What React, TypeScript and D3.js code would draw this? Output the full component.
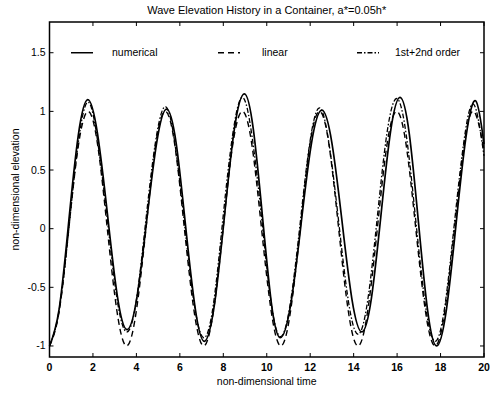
import * as d3 from "d3";

// numerical solution (solid)
const numTime = [0, 0.44, 0.88, 1.32, 1.76, 2.21, 2.67, 3.12, 3.57, 4.03, 4.48, 4.94, 5.39, 5.83, 6.26, 6.7, 7.13, 7.59, 8.05, 8.51, 8.97, 9.38, 9.8, 10.21, 10.62, 11.1, 11.58, 12.06, 12.54, 13.0, 13.46, 13.92, 14.38, 14.82, 15.26, 15.7, 16.14, 16.56, 16.98, 17.4, 17.82, 18.27, 18.72, 19.17, 19.62, 20];
const numElev = [-1.0, -0.69, 0.05, 0.79, 1.1, 0.81, 0.12, -0.57, -0.86, -0.58, 0.08, 0.74, 1.02, 0.73, 0.03, -0.67, -0.96, -0.65, 0.1, 0.85, 1.15, 0.85, 0.11, -0.63, -0.93, -0.65, 0.04, 0.73, 1.01, 0.73, 0.07, -0.6, -0.88, -0.59, 0.12, 0.83, 1.12, 0.81, 0.06, -0.69, -1.0, -0.69, 0.05, 0.78, 1.09, 0.72];

// linear theory (dashed) and 1st+2nd order (dash-dot) share the same samples in time
const thTime = [0, 0.44, 0.89, 1.33, 1.78, 2.22, 2.66, 3.11, 3.55, 3.99, 4.44, 4.88, 5.33, 5.77, 6.21, 6.66, 7.1, 7.54, 7.99, 8.43, 8.88, 9.32, 9.76, 10.21, 10.65, 11.09, 11.54, 11.98, 12.43, 12.87, 13.31, 13.76, 14.2, 14.64, 15.09, 15.53, 15.98, 16.42, 16.86, 17.31, 17.75, 18.19, 18.64, 19.08, 19.53, 20];
const linElev = [-1, -0.71, 0, 0.71, 1, 0.71, 0, -0.71, -1, -0.71, 0, 0.71, 1, 0.71, 0, -0.71, -1, -0.71, 0, 0.71, 1, 0.71, 0, -0.71, -1, -0.71, 0, 0.71, 1, 0.71, 0, -0.71, -1, -0.71, 0, 0.71, 1, 0.71, 0, -0.71, -1, -0.71, 0, 0.71, 1, 0.67];
const sosElev = [-1.0, -0.7, 0.0, 0.74, 1.08, 0.74, 0.08, -0.6, -0.88, -0.62, 0.08, 0.74, 1.04, 0.73, 0.05, -0.64, -0.93, -0.65, 0.1, 0.8, 1.12, 0.79, 0.1, -0.64, -0.92, -0.63, 0.05, 0.73, 1.03, 0.72, 0.06, -0.62, -0.9, -0.62, 0.1, 0.81, 1.11, 0.8, 0.07, -0.66, -0.96, -0.67, 0.05, 0.75, 1.06, 0.62];

const xTicks = [0, 2, 4, 6, 8, 10, 12, 14, 16, 18, 20];
const yTicks = [-1, -0.5, 0, 0.5, 1, 1.5];

const legendItems = ["numerical", "linear", "1st+2nd order"];

const W = 501;
const H = 393;
const left = 49.5;
const right = 484;
const top = 22;
const bottom = 357;

const font = "'Liberation Sans', Arial, Helvetica, sans-serif";

export default function App() {
  const x = d3.scaleLinear().domain([0, 20]).range([left, right]);
  const y = d3.scaleLinear().domain([-1.094, 1.762]).range([bottom, top]);

  const line = (ts: number[], vs: number[]) =>
    d3
      .line<number>()
      .x((_, i) => x(ts[i]))
      .y((v) => y(v))
      .curve(d3.curveNatural)(vs) || "";

  const dashes = ["", "6,4", "5,2,1.5,2"];
  const legendX = [71, 218, 357];
  const legendTextX = [112, 262, 395];
  const legendY = y(1.5);

  return (
    <svg width={W} height={H} style={{ position: "absolute", left: 0, top: 0, background: "#fff" }} fontFamily={font}>
      <text x={(left + right) / 2} y={14} textAnchor="middle" fontSize={11}>
        Wave Elevation History in a Container, a*=0.05h*
      </text>

      <g fill="none" stroke="#000" strokeWidth={1.7} strokeLinejoin="round">
        <path d={line(numTime, numElev)} />
        <path d={line(thTime, linElev)} strokeDasharray={dashes[1]} strokeWidth={1.4} />
        <path d={line(thTime, sosElev)} strokeDasharray={dashes[2]} strokeWidth={1.3} />
      </g>

      {legendItems.map((name, i) => (
        <g key={name}>
          <line x1={legendX[i]} x2={legendX[i] + 22} y1={legendY} y2={legendY} stroke="#000" strokeWidth={1.5} strokeDasharray={dashes[i] || undefined} />
          <text x={legendTextX[i]} y={legendY + 3.5} fontSize={10.5}>{name}</text>
        </g>
      ))}

      <rect x={left} y={top} width={right - left} height={bottom - top} fill="none" stroke="#000" strokeWidth={1.5} />

      {xTicks.map((t) => (
        <g key={"x" + t}>
          <line x1={x(t)} x2={x(t)} y1={bottom} y2={bottom - 4} stroke="#000" />
          <line x1={x(t)} x2={x(t)} y1={top} y2={top + 4} stroke="#000" />
          <text x={x(t)} y={bottom + 14} textAnchor="middle" fontSize={10.5} fontWeight="bold">{t}</text>
        </g>
      ))}

      {yTicks.map((v) => (
        <g key={"y" + v}>
          <line x1={left} x2={left + 4} y1={y(v)} y2={y(v)} stroke="#000" />
          <line x1={right} x2={right - 4} y1={y(v)} y2={y(v)} stroke="#000" />
          <text x={left - 4} y={y(v) + 3.5} textAnchor="end" fontSize={10.5}>{v}</text>
        </g>
      ))}

      <text x={(left + right) / 2} y={385} textAnchor="middle" fontSize={10.5}>non-dimensional time</text>
      <text transform={`translate(19,${(top + bottom) / 2}) rotate(-90)`} textAnchor="middle" fontSize={10.5}>
        non-dimensional elevation
      </text>
    </svg>
  );
}
